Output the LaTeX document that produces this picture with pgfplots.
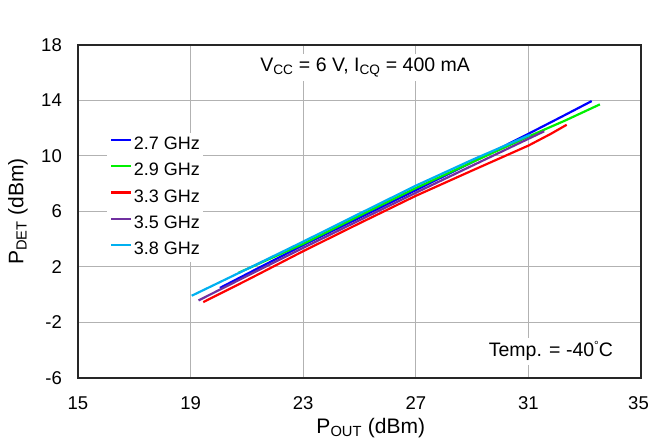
\documentclass[border=0pt]{standalone}
\usepackage{pgfplots}
\pgfplotsset{compat=1.18}
\usepackage{fontspec}
\setmainfont{Liberation Sans}
\definecolor{cA}{RGB}{0,0,255}
\definecolor{cB}{RGB}{0,240,0}
\definecolor{cC}{RGB}{255,0,0}
\definecolor{cD}{RGB}{112,48,160}
\definecolor{cE}{RGB}{0,176,240}
\begin{document}
\begin{tikzpicture}
\path[use as bounding box] (-78bp,-64bp) rectangle (571bp,378bp);
\begin{axis}[
  at={(0,0)}, anchor=south west,
  scale only axis, width=563bp, height=333bp,
  xmin=15, xmax=35, ymin=-6, ymax=18,
  xtick={15,19,23,27,31,35}, xticklabels={15,19,23,27,31,{35\kern5bp}},
  ytick={-6,-2,2,6,10,14,18}, yticklabels={-6,-2,2,6,10,14,18},
  grid=major, major grid style={draw=black!30, line width=1bp},
  axis line style={draw=black!85, line width=1.5bp},
  major tick length=0pt,
  tick label style={font=\fontsize{18.5bp}{21bp}\selectfont},
  xticklabel style={anchor=center, yshift=-25bp},
  yticklabel style={anchor=east, inner sep=0pt, xshift=-16bp},
  xlabel={P\textsubscript{OUT} (dBm)},
  ylabel={P\textsubscript{DET} (dBm)},
  label style={font=\fontsize{21bp}{24bp}\selectfont},
  xlabel style={at={(axis description cs:0.52,-0.15)}, anchor=center},
  ylabel style={at={(axis description cs:-0.1066,0.5)}, anchor=center},
  legend style={at={(axis description cs:0.0515,0.735)}, anchor=north west,
    draw=none, fill=white, inner sep=3bp, column sep=1.5bp, row sep=9.3bp,
    font=\fontsize{18bp}{21bp}\selectfont,
    nodes={inner sep=0pt, text height=13bp, text depth=4bp}},
  legend cell align=left,
  legend image code/.code={\draw[#1, line width=2.2bp] (0bp,5bp) -- (20bp,5bp);},
  every axis plot/.append style={line width=2.2bp, no marks},
]
\addplot[cA] coordinates {(20.04,0.49) (21.5,2.02) (23,3.58) (25,5.55) (27,7.54) (29,9.55) (31,11.6) (32.2,12.85) (33.25,13.96)};
\addlegendentry{2.7 GHz}
\addplot[cB] coordinates {(20.69,1.57) (23,3.67) (25,5.70) (27,7.69) (29,9.55) (31,11.4) (32.3,12.55) (33.54,13.72)};
\addlegendentry{2.9 GHz}
\addplot[cC] coordinates {(19.45,-0.53) (21,1.05) (23,3.14) (25,5.15) (27,7.13) (29,8.95) (31,10.75) (31.8,11.6) (32.36,12.25)};
\addlegendentry{3.3 GHz}
\addplot[cD] coordinates {(19.28,-0.41) (21,1.35) (23,3.38) (25,5.37) (27,7.35) (29,9.3) (31,11.24) (31.56,11.78)};
\addlegendentry{3.5 GHz}
\addplot[cE] coordinates {(19.04,-0.07) (21,1.85) (23,3.83) (25,5.85) (27,7.86) (29,9.72) (31.06,11.53)};
\addlegendentry{3.8 GHz}
\node[fill=white, anchor=base, inner sep=4bp, font=\fontsize{19.5bp}{22bp}\selectfont] at (axis cs:25.2,16.07) {V\textsubscript{CC} = 6 V, I\textsubscript{CQ} = 400 mA};
\node[fill=white, anchor=base, inner sep=4bp, font=\fontsize{19.5bp}{22bp}\selectfont] at (axis cs:31.8,-4.46) {Temp. = -40\raisebox{0.35em}{\scalebox{0.6}{°}}C};
\node[anchor=base, font=\fontsize{24bp}{28bp}\selectfont] at (axis description cs:0.4476,1.048) {P\textsubscript{DET} vs. P\textsubscript{OUT} vs. Frequency};
\end{axis}
\end{tikzpicture}
\end{document}
